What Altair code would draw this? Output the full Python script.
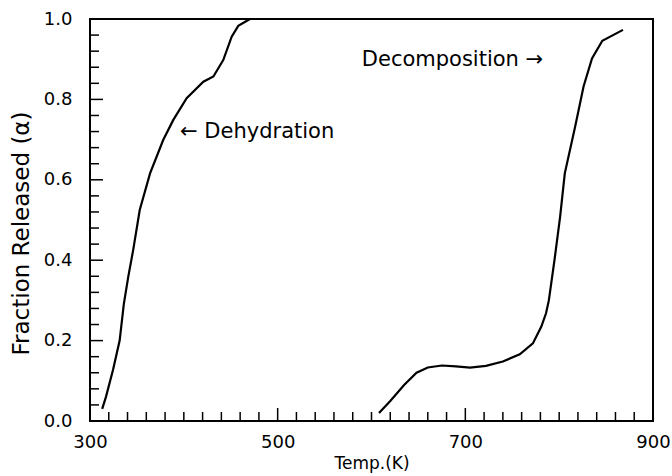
import altair as alt
import pandas as pd

# Dehydration curve (Temp K, fraction released)
dehyd_T = [313, 317, 324.5, 331.6, 336, 340.8, 346, 353, 364, 378, 388.8, 403, 420.8, 431.5, 442, 451, 458, 470.5]
dehyd_alpha = [0.03, 0.06, 0.127, 0.20, 0.29, 0.359, 0.425, 0.525, 0.616, 0.699, 0.749, 0.803, 0.844, 0.857, 0.898, 0.956, 0.983, 1.0]

# Decomposition curve
decomp_T = [608, 620, 635, 648, 660, 675, 690, 705, 722, 740, 758, 772, 781, 786, 789, 795, 801, 806, 817, 826, 835, 846, 868]
decomp_alpha = [0.02, 0.05, 0.09, 0.12, 0.133, 0.138, 0.136, 0.133, 0.137, 0.148, 0.166, 0.193, 0.235, 0.268, 0.30, 0.40, 0.508, 0.616, 0.732, 0.832, 0.902, 0.946, 0.973]

x_tick_labels = [300, 500, 700, 900]
y_tick_labels = [0.0, 0.2, 0.4, 0.6, 0.8, 1.0]
x_minor = [v for v in range(320, 900, 20) if v not in (500, 700)]
x_major = [500, 700]
y_minor = [round(i * 0.04, 2) for i in range(1, 25) if i % 5 != 0]
y_major = [0.2, 0.4, 0.6, 0.8]

W, H = 563, 402
FONT = "DejaVu Sans"

df = pd.concat([
    pd.DataFrame({"T": dehyd_T, "a": dehyd_alpha, "s": "Dehydration"}),
    pd.DataFrame({"T": decomp_T, "a": decomp_alpha, "s": "Decomposition"}),
])

xscale = alt.Scale(domain=[300, 900], nice=False, zero=False)
yscale = alt.Scale(domain=[0, 1], nice=False)

xaxis = alt.Axis(values=x_tick_labels, ticks=False, domain=False, grid=False, labelFlush=False,
                 labelFont=FONT, labelFontSize=18, labelColor="black", labelPadding=12,
                 title="Temp.(K)", titleFont=FONT, titleFontSize=17, titleFontWeight="normal",
                 titleColor="black", titlePadding=4)
yaxis = alt.Axis(values=y_tick_labels, format=".1f", ticks=False, domain=False, grid=False, labelFlush=False,
                 labelFont=FONT, labelFontSize=18, labelColor="black", labelPadding=18,
                 title="Fraction   Released   (α)", titleFont=FONT, titleFontSize=23,
                 titleFontWeight="normal", titleColor="black", titlePadding=10, titleY=214)

lines = alt.Chart(df).mark_line(color="black", strokeWidth=2.2).encode(
    x=alt.X("T:Q", scale=xscale, axis=xaxis),
    y=alt.Y("a:Q", scale=yscale, axis=yaxis),
    detail="s:N",
)

def xticks(vals, length):
    return alt.Chart(pd.DataFrame({"v": vals})).mark_rule(color="black", strokeWidth=1.5).encode(
        x=alt.X("v:Q", scale=xscale),
        y=alt.value(H), y2=alt.value(H - length))

def yticks(vals, length):
    return alt.Chart(pd.DataFrame({"v": vals})).mark_rule(color="black", strokeWidth=1.5).encode(
        y=alt.Y("v:Q", scale=yscale),
        x=alt.value(0), x2=alt.value(length))

ann1 = alt.Chart(pd.DataFrame({"d": [0]})).mark_text(
    font=FONT, fontSize=21, align="left", baseline="alphabetic", color="black"
).encode(x=alt.datum(396), y=alt.datum(0.704), text=alt.value("←  Dehydration"))

ann2 = alt.Chart(pd.DataFrame({"d": [0]})).mark_text(
    font=FONT, fontSize=21, align="right", baseline="alphabetic", color="black"
).encode(x=alt.datum(783), y=alt.datum(0.883), text=alt.value("Decomposition →"))

chart = alt.layer(
    lines, xticks(x_minor, 9), xticks(x_major, 13), yticks(y_minor, 9), yticks(y_major, 13), ann1, ann2
).properties(
    width=W, height=H, autosize="none",
    padding={"left": 90, "top": 19, "right": 19, "bottom": 55},
    background="white",
).configure_view(stroke="black", strokeWidth=2)

chart.save("out.html", embed_options={"renderer": "svg", "actions": False})
